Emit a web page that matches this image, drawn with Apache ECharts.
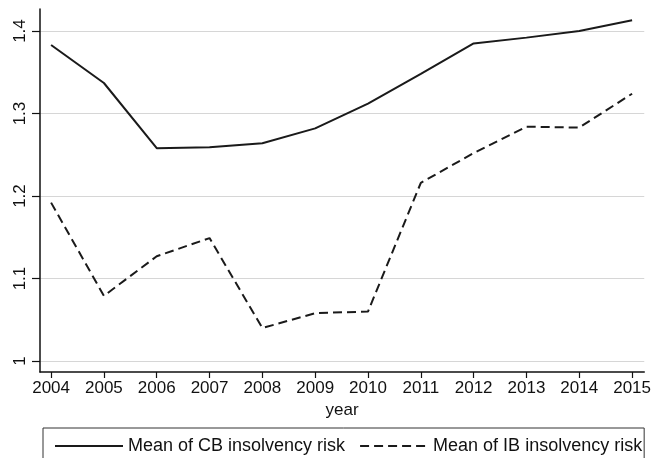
<!DOCTYPE html>
<html>
<head>
<meta charset="utf-8">
<script src="https://cdn.jsdelivr.net/npm/echarts@6/dist/echarts.min.js"></script>
<style>html,body{margin:0;padding:0;background:#fff;}#c{width:654px;height:458px;}</style>
</head>
<body>
<div id="c"></div>
<script>
const years = [2004, 2005, 2006, 2007, 2008, 2009, 2010, 2011, 2012, 2013, 2014, 2015];
const cbRisk = [1.383, 1.337, 1.258, 1.259, 1.264, 1.282, 1.312, 1.348, 1.385, 1.392, 1.400, 1.413];
const ibRisk = [1.192, 1.079, 1.127, 1.149, 1.040, 1.058, 1.060, 1.216, 1.252, 1.284, 1.283, 1.324];
const yTicks = [1, 1.1, 1.2, 1.3, 1.4];
const seriesNames = ['Mean of CB insolvency risk', 'Mean of IB insolvency risk'];

const FONT = 'Liberation Sans';
const chart = echarts.init(document.getElementById('c'), null, {renderer: 'canvas'});
chart.setOption({
  animation: false,
  backgroundColor: '#fff',
  grid: {left: 40, right: 9, top: 9, bottom: 86, containLabel: false},
  xAxis: {
    type: 'value',
    min: 2003.79, max: 2015.23,
    name: 'year', nameLocation: 'middle', nameGap: 30,
    nameTextStyle: {fontFamily: FONT, fontSize: 17, color: '#111'},
    axisLine: {show: true, onZero: false, lineStyle: {color: '#111', width: 1.5}},
    axisTick: {show: true, customValues: years, length: 6, lineStyle: {color: '#111', width: 1.2}},
    axisLabel: {customValues: years, formatter: v => String(v), fontFamily: FONT, fontSize: 17, color: '#111', margin: 8},
    splitLine: {show: false}
  },
  yAxis: {
    type: 'value',
    min: 0.9867, max: 1.4267,
    axisLine: {show: true, onZero: false, lineStyle: {color: '#111', width: 1.5}},
    axisTick: {show: true, customValues: yTicks, length: 8, lineStyle: {color: '#111', width: 1.2}},
    axisLabel: {customValues: yTicks, rotate: 90, fontFamily: FONT, fontSize: 17, color: '#111', margin: 11,
      verticalAlign: 'bottom', align: 'center'},
    splitLine: {show: true, lineStyle: {color: '#d6d6d6', width: 1.2}}
  },
  legend: {
    left: 43, top: 428,
    orient: 'horizontal',
    itemWidth: 68, itemHeight: 14, itemGap: 14,
    padding: [9, 2, 20, 11],
    borderColor: '#333', borderWidth: 1,
    itemStyle: {opacity: 0},
    textStyle: {fontFamily: FONT, fontSize: 18, color: '#111'},
    data: seriesNames
  },
  series: [
    {
      name: seriesNames[0], type: 'line', symbol: 'none', showSymbol: false,
      data: years.map((y, i) => [y, cbRisk[i]]),
      lineStyle: {color: '#1a1a1a', width: 2, type: 'solid'},
      itemStyle: {color: '#1a1a1a'}
    },
    {
      name: seriesNames[1], type: 'line', symbol: 'none', showSymbol: false,
      data: years.map((y, i) => [y, ibRisk[i]]),
      lineStyle: {color: '#1a1a1a', width: 2, type: [9, 5]},
      itemStyle: {color: '#1a1a1a'}
    }
  ]
});
</script>
</body>
</html>
